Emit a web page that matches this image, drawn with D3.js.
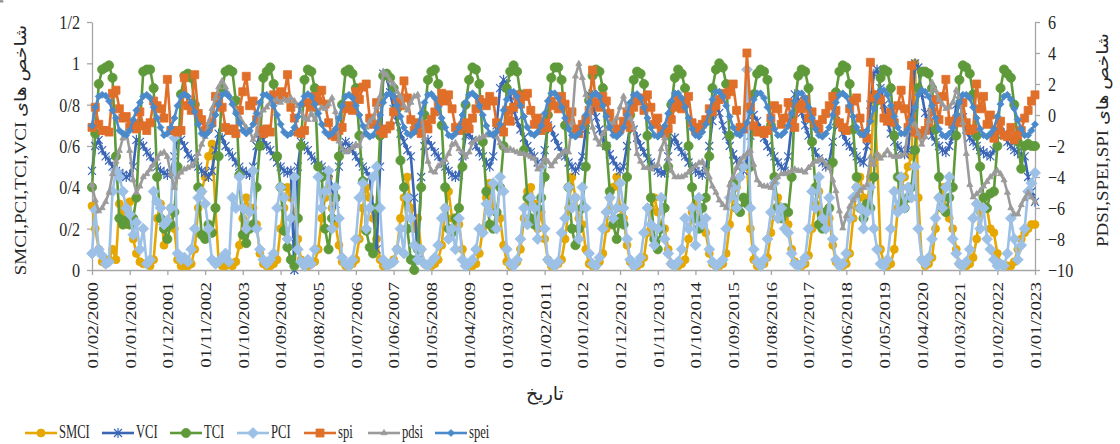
<!DOCTYPE html>
<html>
<head>
<meta charset="utf-8">
<script src="https://cdn.jsdelivr.net/npm/d3@7"></script>
<style>
  body { margin: 0; background: #fff; }
  text { font-family: "Liberation Serif", "DejaVu Serif", "DejaVu Sans", serif; fill: #262626; }
</style>
</head>
<body>
<svg id="chart" width="1120" height="444"></svg>
<script>
// monthly values, Feb 2000 .. Jan 2023 (one row per year)
const smci = [
  .31,.20,.10,.04,.03,.05,.10,.05,.32,.28,.22,
  .33,.15,.08,.04,.03,.03,.02,.05,.25,.32,.12,.22,
  .30,.20,.05,.02,.02,.02,.03,.10,.30,.38,.45,.55,
  .61,.30,.04,.02,.02,.03,.02,.04,.12,.25,.35,.28,
  .30,.22,.08,.03,.02,.02,.03,.05,.20,.30,.40,.35,
  .28,.15,.05,.02,.02,.03,.04,.10,.25,.35,.45,.30,
  .22,.12,.04,.02,.02,.03,.05,.15,.30,.40,.35,.25,
  .15,.05,.02,.02,.03,.05,.10,.25,.35,.45,.30,.20,
  .25,.10,.03,.02,.02,.03,.05,.12,.30,.38,.25,.20,
  .22,.10,.03,.02,.02,.03,.08,.20,.35,.42,.30,.28,
  .25,.12,.04,.02,.03,.04,.10,.25,.38,.40,.32,.20,
  .28,.15,.05,.02,.02,.03,.05,.15,.30,.45,.35,.25,
  .22,.10,.03,.02,.02,.04,.08,.20,.35,.40,.45,.30,
  .25,.12,.04,.02,.02,.03,.06,.18,.30,.35,.28,.20,
  .20,.10,.03,.02,.02,.03,.05,.15,.28,.32,.30,.22,
  .18,.08,.03,.02,.02,.03,.08,.22,.35,.40,.45,.50,
  .52,.20,.05,.02,.02,.03,.06,.18,.30,.35,.30,.25,
  .22,.10,.04,.02,.02,.03,.07,.20,.32,.38,.28,.22,
  .25,.12,.04,.02,.02,.03,.08,.25,.40,.45,.35,.30,
  .45,.85,.55,.10,.03,.02,.03,.10,.30,.40,.45,.50,
  .55,1.0,.35,.05,.02,.03,.06,.20,.35,.40,.30,.25,
  .20,.10,.03,.02,.02,.03,.06,.15,.28,.35,.30,.20,
  .18,.08,.03,.02,.02,.02,.04,.10,.15,.18,.20,.22,
  .22
];
const vci = [
  .48,.60,.63,.58,.55,.53,.50,.48,.47,.46,.45,
  .46,.50,.63,.62,.60,.57,.55,.52,.50,.48,.47,.46,
  .47,.55,.65,.63,.60,.56,.54,.52,.50,.48,.47,.45,
  .48,.58,.66,.64,.60,.57,.55,.52,.50,.48,.47,.46,
  .50,.60,.66,.63,.60,.58,.55,.52,.50,.48,.47,.48,
  .00,.50,.62,.60,.58,.55,.53,.51,.50,.48,.47,.40,
  .32,.50,.60,.62,.60,.58,.55,.52,.50,.48,.45,.30,
  .10,.50,.95,.93,.86,.78,.72,.66,.62,.58,.55,.35,
  .05,.45,.60,.63,.60,.57,.55,.52,.50,.48,.46,.45,
  .46,.55,.65,.66,.63,.60,.57,.55,.52,.50,.55,.70,
  .88,.92,.90,.84,.78,.72,.68,.64,.60,.57,.55,.52,
  .50,.58,.70,.68,.64,.60,.57,.55,.52,.50,.48,.50,
  .55,.68,.85,.80,.74,.68,.64,.60,.56,.53,.50,.48,
  .50,.60,.70,.68,.64,.60,.57,.54,.52,.50,.48,.47,
  .47,.55,.62,.64,.60,.57,.55,.52,.50,.48,.47,.46,
  .48,.60,.72,.80,.76,.70,.65,.60,.56,.53,.50,.48,
  .52,.65,.75,.72,.68,.64,.60,.57,.55,.52,.50,.48,
  .55,.70,.85,.82,.76,.70,.65,.60,.57,.54,.52,.50,
  .52,.62,.72,.70,.66,.62,.60,.57,.55,.53,.52,.60,
  .80,.95,.97,.88,.80,.72,.66,.62,.60,.58,.56,.58,
  .75,1.0,.98,.85,.76,.70,.65,.62,.60,.58,.57,.60,
  .65,.80,.82,.74,.68,.64,.62,.60,.58,.57,.56,.55,
  .58,.65,.70,.66,.62,.60,.58,.57,.56,.55,.45,.38,
  .33
];
const tci = [
  .40,.66,.90,.97,.98,.99,.93,.55,.25,.22,.24,
  .22,.25,.35,.70,.96,.97,.97,.88,.45,.25,.20,.15,
  .22,.28,.50,.85,.94,.95,.93,.80,.40,.17,.15,.22,
  .18,.30,.55,.88,.96,.97,.96,.82,.46,.17,.13,.20,
  .22,.40,.60,.93,.96,.98,.90,.55,.40,.19,.11,.05,
  .02,.25,.60,.92,.97,.96,.88,.50,.45,.20,.10,.25,
  .35,.55,.80,.96,.97,.95,.88,.65,.43,.19,.11,.08,
  .30,.65,.94,.95,.93,.88,.78,.53,.40,.20,.05,.00,
  .10,.40,.75,.92,.96,.97,.90,.70,.40,.20,.18,.25,
  .30,.50,.80,.92,.98,.97,.90,.62,.38,.22,.20,.28,
  .40,.60,.88,.96,.99,.96,.85,.58,.35,.25,.22,.30,
  .35,.45,.75,.93,.98,.98,.92,.70,.40,.20,.12,.20,
  .30,.50,.82,.94,.97,.96,.88,.60,.38,.22,.15,.25,
  .22,.45,.75,.92,.96,.95,.90,.65,.35,.15,.10,.20,
  .30,.50,.80,.93,.97,.95,.88,.60,.40,.25,.20,.30,
  .35,.55,.88,.97,1.0,.98,.90,.65,.42,.30,.28,.35,
  .32,.50,.85,.95,.97,.96,.92,.70,.45,.30,.25,.30,
  .28,.45,.80,.94,.97,.96,.88,.62,.40,.22,.20,.28,
  .30,.52,.86,.96,.99,.98,.90,.68,.45,.30,.25,.32,
  .30,.45,.82,.93,.97,.96,.88,.65,.45,.32,.30,.35,
  .40,.58,.88,.96,.96,.95,.88,.68,.45,.30,.28,.35,
  .40,.65,.92,.99,.98,.95,.85,.65,.50,.35,.30,.37,
  .38,.60,.88,.97,.95,.93,.80,.62,.49,.60,.61,.60,
  .60
];
const pci = [
  .08,.29,.10,.07,.03,.04,.38,.48,.45,.38,.30,
  .27,.17,.23,.10,.20,.03,.05,.38,.33,.30,.22,.24,
  .30,.64,.08,.05,.06,.04,.10,.20,.35,.38,.32,.20,
  .05,.03,.04,.06,.08,.04,.35,.30,.45,.30,.20,.28,
  .48,.20,.10,.05,.03,.05,.08,.30,.40,.35,.15,.25,
  .45,.10,.04,.02,.05,.03,.10,.45,.30,.38,.48,.20,
  .40,.25,.06,.03,.02,.05,.15,.35,.42,.20,.30,.45,
  .50,.30,.05,.02,.03,.04,.10,.20,.08,.35,.25,.12,
  .05,.10,.03,.02,.04,.06,.12,.25,.30,.15,.20,.10,
  .25,.05,.02,.03,.05,.10,.20,.18,.32,.28,.42,.20,
  .45,.38,.10,.03,.02,.05,.15,.30,.22,.35,.30,.15,
  .50,.20,.05,.03,.02,.04,.18,.25,.40,.30,.35,.15,
  .40,.30,.08,.03,.02,.06,.20,.28,.35,.25,.30,.42,
  .30,.15,.05,.02,.03,.06,.18,.30,.22,.12,.20,.35,
  .15,.08,.03,.02,.04,.10,.25,.20,.30,.12,.35,.22,
  .25,.10,.04,.02,.03,.05,.20,.35,.40,.30,.45,.50,
  .97,.30,.10,.04,.02,.05,.15,.28,.42,.25,.30,.20,
  .18,.08,.03,.02,.03,.06,.20,.38,.30,.45,.25,.20,
  .35,.15,.05,.02,.03,.08,.25,.35,.40,.30,.20,.28,
  .40,.20,.10,.03,.02,.05,.20,.38,.28,.45,.30,.40,
  .35,.50,.20,.05,.03,.06,.15,.25,.35,.30,.40,.45,
  .15,.08,.03,.02,.04,.10,.25,.32,.20,.30,.15,.10,
  .05,.02,.03,.02,.08,.25,.15,.05,.12,.20,.38,.42,
  .47
];
const spi = [
  -0.8,0.5,-0.6,-1.0,-1.0,-1.1,1.4,1.6,0.4,-0.2,-0.1,
  -0.8,-0.6,-0.9,0.2,-0.7,-1.0,-0.5,0.9,0.6,0.4,-0.2,2.3,
  -1.0,-1.0,-1.1,-1.0,2.4,0.6,0.3,2.6,0.1,-0.3,-1.0,-0.8,
  -0.5,1.2,0.8,0.5,-0.8,-1.0,-0.9,-1.2,0.3,1.5,2.5,0.6,
  0.9,-0.3,-1.0,-1.2,-0.9,-1.1,1.3,1.0,1.5,1.2,2.6,0.5,
  -0.2,-1.1,-1.2,-1.0,0.8,0.5,1.2,0.9,1.6,0.7,-0.5,-1.3,
  -1.4,-1.0,-0.8,0.4,0.6,0.3,1.5,1.0,1.8,2.0,-0.2,-0.6,
  0.8,-1.0,-1.2,-0.9,-0.7,0.2,1.0,0.6,2.2,1.1,-0.3,-1.0,
  -0.5,-1.2,-0.6,-0.9,-0.3,0.2,0.8,1.4,0.9,1.3,0.4,-0.8,
  -1.0,-0.7,-0.5,-0.9,-0.2,0.4,1.0,0.8,0.6,1.2,0.9,-0.5,
  -0.8,-1.1,0.3,-0.4,0.5,1.3,0.7,1.2,1.4,0.3,-0.6,-0.2,
  -1.0,-0.5,-0.8,0.9,0.6,0.4,1.2,0.7,-0.3,0.2,-0.9,-1.2,
  -0.6,-0.3,0.3,2.9,0.8,0.5,1.2,0.9,0.1,-0.5,-1.1,-0.9,
  -0.4,0.2,-0.8,0.5,0.9,1.1,0.3,1.3,0.5,-0.6,-0.2,-1.0,
  -1.2,-0.9,-0.3,0.5,1.0,0.4,0.8,1.2,-0.5,-1.0,-0.8,-0.6,
  -0.3,0.4,0.2,0.6,1.0,1.4,1.3,1.5,2.0,0.3,-0.8,-0.9,
  4.0,0.5,-0.7,-1.1,-1.0,-1.2,-1.0,-0.2,0.6,0.4,-0.6,-0.2,
  0.8,-0.5,-0.8,0.7,0.4,1.0,-0.2,0.2,-0.6,-0.9,-0.3,0.1,
  0.6,1.2,0.3,-0.5,-0.8,-1.0,0.4,0.9,1.1,-0.2,-1.2,-1.5,
  3.4,1.1,1.3,1.0,-0.2,-0.4,0.2,-0.5,0.6,1.6,0.4,-0.8,
  3.2,-1.1,-1.2,-1.3,-1.0,-0.5,0.2,1.0,-0.3,1.2,2.3,-0.4,
  -0.6,-0.3,-0.5,0.8,-0.5,-1.0,-0.9,2.0,0.4,1.2,-0.6,0.0,
  -1.5,-1.0,-0.4,-1.3,-1.4,-0.8,-1.6,-1.3,-1.0,-0.2,0.3,0.9,
  1.3
];
const pdsi = [
  -4.5,-5.5,-6.2,-6.0,-5.6,-5.0,-3.8,-3.0,-2.3,-1.5,-1.1,
  -2.3,-4.2,-5.0,-4.6,-4.0,-3.8,-3.5,-3.2,-2.8,-2.5,-2.4,-2.7,
  -3.8,-4.7,-4.0,-3.7,-3.5,-3.4,-3.3,-3.1,-2.5,-1.9,-1.4,-0.5,
  0.4,1.1,1.8,2.2,1.8,1.3,0.8,0.3,-0.1,-0.5,-0.8,-1.0,
  -1.6,-1.2,0.0,0.3,0.5,0.8,0.9,1.0,0.8,1.0,0.9,1.1,
  0.9,0.6,0.2,-0.2,-0.3,0.1,-0.3,0.2,0.5,0.4,0.7,1.1,
  0.2,-1.7,-2.2,-2.4,-2.3,-2.1,-1.9,-2.0,-1.3,-0.8,-0.4,-0.2,
  0.5,1.2,2.8,2.6,2.2,2.0,1.5,1.2,0.6,0.3,0.8,1.2,
  1.3,0.2,-1.5,-3.0,-3.6,-3.7,-3.3,-3.1,-2.9,-2.5,-1.9,-1.8,
  -2.2,-2.4,-2.7,-2.4,-1.8,-1.6,-1.5,-1.4,-1.3,-1.3,-1.2,-1.4,
  -1.8,-2.1,-2.3,-2.2,-2.3,-2.4,-2.5,-2.5,-2.6,-2.7,-2.8,-3.5,
  -3.3,-2.8,-3.0,-3.3,-3.0,-2.7,-2.5,-2.3,-2.4,-0.5,2.5,3.3,
  2.4,1.3,0.6,-0.8,-1.5,-1.9,-1.2,-0.9,-0.6,-0.5,-0.2,0.5,
  1.2,0.5,-0.2,-0.8,-2.5,-3.0,-3.4,-3.4,-3.5,-3.3,-3.2,-2.2,
  -1.5,-2.8,-3.6,-4.0,-4.0,-4.0,-3.9,-3.7,-3.5,-3.3,-3.1,-3.0,
  -3.6,-4.0,-4.6,-5.0,-5.5,-5.8,-6.0,-4.5,-4.0,-3.4,-3.0,-2.7,
  -2.5,-2.3,-3.2,-4.2,-4.5,-4.6,-4.6,-4.7,-4.3,-4.0,-3.8,-3.8,
  -3.7,-3.6,-3.5,-3.6,-3.6,-3.7,-3.4,-3.2,-3.0,-2.9,-2.9,-3.2,
  -3.4,-4.2,-4.9,-6.2,-7.3,-6.5,-5.9,-5.5,-5.2,-4.9,-4.7,-4.5,
  -2.7,-3.2,-2.5,-2.8,-2.6,-2.3,-2.6,-2.7,-2.7,-2.6,-2.5,-1.0,
  -0.4,-0.6,-1.2,-1.9,-1.4,-0.4,2.1,1.6,1.0,0.7,0.4,0.5,
  0.8,1.6,1.2,-0.5,-2.5,-4.5,-5.3,-5.1,-4.9,-4.6,-4.3,-4.0,
  -3.8,-3.6,-3.8,-4.2,-5.0,-6.0,-6.4,-6.4,-5.8,-5.4,-5.0,-5.3,
  -5.6,-5.5,-5.5,-5.6,-5.5
];
const spei = [
  -0.7,0.5,1.2,1.3,1.25,0.9,0.3,-0.2,-1.0,-1.2,-1.3,
  -1.0,-0.3,0.3,0.8,1.2,1.3,1.1,0.5,-0.2,-0.8,-1.3,-1.2,
  -0.8,-0.2,0.6,1.2,1.35,1.2,0.8,0.2,-0.6,-1.2,-1.3,-1.1,
  -0.7,0.0,0.7,1.3,1.4,1.2,0.7,0.1,-0.5,-1.0,-1.2,-1.0,
  -0.6,0.1,0.8,1.3,1.3,1.1,0.6,0.0,-0.6,-1.1,-1.3,-1.2,
  -0.8,-0.1,0.7,1.2,1.35,1.2,0.7,0.1,-0.6,-1.1,-1.3,-1.2,
  -0.9,-0.2,0.6,1.2,1.3,1.1,0.6,0.0,-0.7,-1.2,-1.4,-1.3,
  -0.8,0.0,0.8,1.3,1.4,1.2,0.6,-0.1,-0.8,-1.2,-1.3,-1.1,
  -0.7,0.1,0.8,1.3,1.35,1.1,0.5,-0.2,-0.8,-1.3,-1.4,-1.2,
  -0.8,0.0,0.8,1.3,1.4,1.2,0.6,0.0,-0.7,-1.2,-1.3,-1.1,
  -0.6,0.3,1.0,1.5,1.5,1.2,0.6,-0.1,-0.8,-1.2,-1.3,-1.1,
  -0.7,0.1,0.9,1.4,1.4,1.1,0.5,-0.2,-0.9,-1.3,-1.4,-1.2,
  -0.8,0.0,0.8,1.3,1.4,1.2,0.6,-0.1,-0.8,-1.3,-1.4,-1.2,
  -0.8,0.0,0.8,1.3,1.35,1.1,0.5,-0.2,-0.8,-1.3,-1.4,-1.2,
  -0.7,0.1,0.9,1.4,1.4,1.1,0.5,-0.2,-0.9,-1.3,-1.4,-1.1,
  -0.6,0.2,1.0,1.5,1.5,1.2,0.6,-0.1,-0.8,-1.2,-1.3,-1.0,
  -0.5,0.2,1.0,1.4,1.4,1.1,0.5,-0.2,-0.9,-1.3,-1.3,-1.1,
  -0.7,0.1,0.9,1.4,1.4,1.1,0.5,-0.2,-0.9,-1.3,-1.4,-1.2,
  -0.8,0.0,0.8,1.3,1.4,1.2,0.6,-0.1,-0.8,-1.2,-1.3,-1.0,
  -0.4,0.4,1.2,1.6,1.6,1.3,0.6,-0.1,-0.8,-1.2,-1.2,-0.9,
  -0.3,0.5,1.3,1.6,1.5,1.2,0.6,-0.2,-0.9,-1.3,-1.4,-1.2,
  -0.8,0.0,0.8,1.3,1.3,1.1,0.5,-0.2,-0.9,-1.3,-1.4,-1.2,
  -0.9,-0.1,0.7,1.2,1.3,1.0,0.4,-0.3,-0.9,-1.3,-1.3,-1.0,
  -0.6
];

const leftTicks = [0, 0.2, 0.4, 0.6, 0.8, 1, 1.2];
const rightTicks = [-10, -8, -6, -4, -2, 0, 2, 4, 6];
const labelStep = 11; // a date label every 11 months
const firstMonth = new Date(2000, 1, 1);
const dates = d3.range(smci.length).map(i => d3.timeMonth.offset(firstMonth, i));

const series = [
  { name: "SMCI", values: smci, axis: "L", color: "#E6A700", marker: "circle", ms: 4 },
  { name: "VCI",  values: vci,  axis: "L", color: "#3B66B6", marker: "star",   ms: 5 },
  { name: "TCI",  values: tci,  axis: "L", color: "#5E9A3A", marker: "circle", ms: 4.6 },
  { name: "PCI",  values: pci,  axis: "L", color: "#9CC0E6", marker: "diamond", ms: 5.5 },
  { name: "spi",  values: spi,  axis: "R", color: "#E06F2A", marker: "square", ms: 4 },
  { name: "pdsi", values: pdsi, axis: "R", color: "#9B9B9B", marker: "triangle", ms: 2 },
  { name: "spei", values: spei, axis: "R", color: "#4A8ACB", marker: "diamond", ms: 3.5 }
];

const svg = d3.select("#chart");
const plot = { left: 92, right: 1035, top: 22, bottom: 270 };

const x = d3.scaleTime().domain(d3.extent(dates)).range([plot.left, plot.right]);
const yL = d3.scaleLinear().domain([0, 1.2]).range([plot.bottom, plot.top]);
const yR = d3.scaleLinear().domain([-10, 6]).range([plot.bottom, plot.top]);

const axisColor = "#A6A6A6";
const fontSize = 19;

function styleAxis(g) {
  g.selectAll("path.domain").attr("stroke", axisColor).attr("stroke-width", 1.3);
  g.selectAll(".tick line").attr("stroke", axisColor).attr("stroke-width", 1.3);
  g.selectAll(".tick text").style("font-size", fontSize + "px").attr("fill", "#262626");
}

// left axis
const gl = svg.append("g").attr("transform", `translate(${plot.left},0)`)
  .call(d3.axisLeft(yL).tickValues(leftTicks).tickSize(5).tickSizeOuter(0)
    .tickFormat(d => String(+d.toFixed(1)).replace(".", "/")))
  .call(styleAxis);
gl.selectAll(".tick text").attr("x", 0).attr("dy", "0.34em")
  .attr("transform", "translate(-12,0) scale(0.85,1)");

// right axis
const gr = svg.append("g").attr("transform", `translate(${plot.right},0)`)
  .call(d3.axisRight(yR).tickValues(rightTicks).tickSize(5).tickSizeOuter(0)
    .tickFormat(d => d < 0 ? "\u2212" + Math.abs(d) : String(d)))
  .call(styleAxis);
gr.selectAll(".tick text").attr("x", 0).attr("dy", "0.34em")
  .attr("transform", "translate(13,0) scale(0.85,1)");

// bottom axis (at left-axis zero)
const labelDates = dates.filter((d, i) => i % labelStep === 0);
const gb = svg.append("g").attr("transform", `translate(0,${yL(0)})`)
  .call(d3.axisBottom(x).tickValues(labelDates).tickSize(5).tickSizeOuter(0)
    .tickFormat(d3.timeFormat("%d/%m/%Y")))
  .call(styleAxis);
gb.selectAll(".tick text")
  .attr("x", 0).attr("y", 0).attr("dy", "0.35em")
  .style("text-anchor", "end")
  .attr("transform", "translate(0,12) scale(0.8,1) rotate(-90)");

// markers
function markerPath(type, r) {
  if (type === "circle") return d3.symbol().type(d3.symbolCircle).size(Math.PI * r * r)();
  if (type === "square") return `M${-r},${-r}h${2 * r}v${2 * r}h${-2 * r}Z`;
  if (type === "diamond") return `M0,${-r}L${r},0L0,${r}L${-r},0Z`;
  if (type === "triangle") return d3.symbol().type(d3.symbolTriangle).size(r * r * 4)();
  // star: x plus vertical bar
  const a = r * 0.8;
  return `M${-a},${-a}L${a},${a}M${-a},${a}L${a},${-a}M0,${-r}L0,${r}`;
}

const line = (s) => d3.line()
  .x((d, i) => x(dates[i]))
  .y(d => (s.axis === "L" ? yL : yR)(d));

series.forEach(s => {
  const g = svg.append("g").attr("class", "series " + s.name);
  const y = s.axis === "L" ? yL : yR;
  g.append("path")
    .attr("d", line(s)(s.values))
    .attr("fill", "none")
    .attr("stroke", s.color)
    .attr("stroke-width", 2.6)
    .attr("stroke-linejoin", "round");
  g.selectAll("path.m")
    .data(s.values)
    .join("path")
    .attr("class", "m")
    .attr("transform", (d, i) => `translate(${x(dates[i])},${y(d)})`)
    .attr("d", markerPath(s.marker, s.ms))
    .attr("fill", s.marker === "star" ? "none" : s.color)
    .attr("stroke", s.color)
    .attr("stroke-width", s.marker === "star" ? 1.2 : 0.8);
});

// axis titles
svg.append("text")
  .attr("transform", "translate(26,150) scale(0.85,1) rotate(-90)")
  .attr("text-anchor", "middle")
  .style("font-size", fontSize + "px")
  .text("SMCI,PCI,TCI,VCI شاخص های");

svg.append("text")
  .attr("transform", "translate(1108,140) scale(0.85,1) rotate(-90)")
  .attr("text-anchor", "middle")
  .style("font-size", fontSize + "px")
  .text("PDSI,SPEI,SPI شاخص های");

svg.append("text")
  .attr("x", 545).attr("y", 400)
  .attr("text-anchor", "middle")
  .style("font-size", fontSize + "px")
  .text("تاریخ");

// legend
const legendX = [25, 102, 170, 237, 304, 368, 435];
const legendY = 433;
series.forEach((s, i) => {
  const g = svg.append("g").attr("transform", `translate(${legendX[i]},${legendY})`);
  g.append("line").attr("x1", 0).attr("x2", 32).attr("y1", 0).attr("y2", 0)
    .attr("stroke", s.color).attr("stroke-width", 2.6);
  g.append("path").attr("transform", "translate(16,0)")
    .attr("d", markerPath(s.marker, s.ms))
    .attr("fill", s.marker === "star" ? "none" : s.color)
    .attr("stroke", s.color)
    .attr("stroke-width", s.marker === "star" ? 1.2 : 0.8);
  g.append("text")
    .attr("transform", "translate(34,0) scale(0.7,1)")
    .attr("y", 5)
    .style("font-size", "18px")
    .text(s.name);
});
</script>
</body>
</html>
